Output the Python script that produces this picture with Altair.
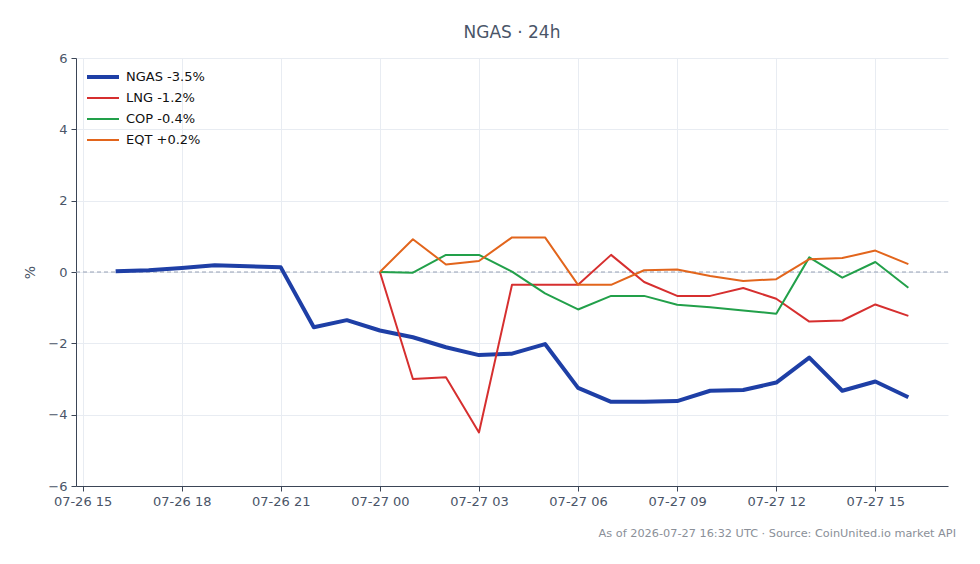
import altair as alt
import pandas as pd

# Hourly % change vs. start of window
hours_all = pd.date_range("2026-07-26 16:00", "2026-07-27 16:00", freq="h")
hours_peer = pd.date_range("2026-07-27 00:00", "2026-07-27 16:00", freq="h")

ngas = [0.02, 0.05, 0.11, 0.19, 0.16, 0.13, -1.55, -1.35, -1.64, -1.83, -2.11, -2.33,
        -2.29, -2.02, -3.25, -3.64, -3.64, -3.62, -3.33, -3.31, -3.10, -2.40, -3.33,
        -3.07, -3.51]
lng = [0.0, -3.00, -2.95, -4.50, -0.36, -0.36, -0.36, 0.48, -0.28, -0.67, -0.67, -0.45,
       -0.75, -1.39, -1.36, -0.91, -1.23]
cop = [0.0, -0.02, 0.48, 0.48, 0.01, -0.60, -1.05, -0.67, -0.67, -0.92, -0.99, -1.08,
       -1.17, 0.41, -0.16, 0.28, -0.44]
eqt = [0.0, 0.92, 0.21, 0.31, 0.97, 0.97, -0.36, -0.36, 0.05, 0.07, -0.11, -0.25,
       -0.20, 0.36, 0.39, 0.60, 0.22]

labels = ["NGAS -3.5%", "LNG -1.2%", "COP -0.4%", "EQT +0.2%"]
colors = ["#1e3fa6", "#d62f2f", "#22a04a", "#e2651c"]
widths = [4, 2, 2, 2]

frames = []
for lab, hrs, vals in zip(labels, [hours_all, hours_peer, hours_peer, hours_peer],
                          [ngas, lng, cop, eqt]):
    frames.append(pd.DataFrame({"t": hrs, "pct": vals, "series": lab}))
df = pd.concat(frames, ignore_index=True)
df["t"] = df["t"].dt.strftime("%Y-%m-%dT%H:%M:%SZ")

tick_times = pd.date_range("2026-07-26 15:00", "2026-07-27 15:00", freq="3h")
tick_ms = [int(t.value // 1_000_000) for t in tick_times]
dom_lo = int(pd.Timestamp("2026-07-26 14:48").value // 1_000_000)
dom_hi = int(pd.Timestamp("2026-07-27 17:12").value // 1_000_000)

FONT = "DejaVu Sans"
W, H = 872, 428

x_enc = alt.X(
    "t:T",
    scale=alt.Scale(type="utc", domain=[dom_lo, dom_hi]),
    axis=alt.Axis(values=tick_ms, labelExpr="utcFormat(datum.value, '%m-%d %H')",
                  title=None, labelFlush=False, labelOverlap=False),
)
y_enc = alt.Y(
    "pct:Q",
    scale=alt.Scale(domain=[-6, 6], nice=False),
    axis=alt.Axis(values=[-6, -4, -2, 0, 2, 4, 6], title="%", titlePadding=10),
)

lines = alt.Chart(df).mark_line(strokeJoin="round").encode(
    x=x_enc,
    y=y_enc,
    color=alt.Color(
        "series:N",
        scale=alt.Scale(domain=labels, range=colors),
        legend=alt.Legend(
            title=None, orient="none", legendX=9, legendY=11, symbolType="stroke",
            symbolSize=1024, clipHeight=16, rowPadding=5, labelOffset=5,
            labelFontSize=13, labelFont=FONT, labelColor="#111111", padding=0,
        ),
    ),
    strokeWidth=alt.StrokeWidth(
        "series:N", scale=alt.Scale(type="ordinal", domain=labels, range=widths),
        legend=None,
    ),
    order=alt.Order("t:T"),
)

zero = alt.Chart(pd.DataFrame({"y": [0]})).mark_rule(
    color="#96a0b4", strokeWidth=1, strokeDash=[4, 3]
).encode(y="y:Q")

footer = alt.Chart(pd.DataFrame({"txt": [
    "As of 2026-07-27 16:32 UTC \u00b7 Source: CoinUnited.io market API"]})).mark_text(
    align="right", baseline="middle", fontSize=11.3, font=FONT, color="#8a8f98"
).encode(text="txt:N", x=alt.value(W + 8), y=alt.value(H + 48))

chart = (
    alt.layer(zero, lines, footer)
    .properties(
        width=W, height=H,
        title=alt.TitleParams("NGAS \u00b7 24h", fontSize=17, font=FONT,
                              color="#4a5568", fontWeight="normal", anchor="middle",
                              offset=10),
        autosize=alt.AutoSizeParams(type="none"),
        padding={"left": 76, "top": 58, "right": 32, "bottom": 78},
        background="white",
    )
    .configure_view(stroke=None)
    .configure_axis(
        labelFont=FONT, titleFont=FONT, labelFontSize=13, titleFontSize=14,
        labelColor="#4a5568", titleColor="#4a5568", titleFontWeight="normal",
        gridColor="#e8ecf2", gridWidth=1, domainColor="#3b4556", tickColor="#3b4556",
        tickSize=5, labelPadding=4,
    )
)

chart.save("out.html", embed_options={"renderer": "svg", "actions": False})
